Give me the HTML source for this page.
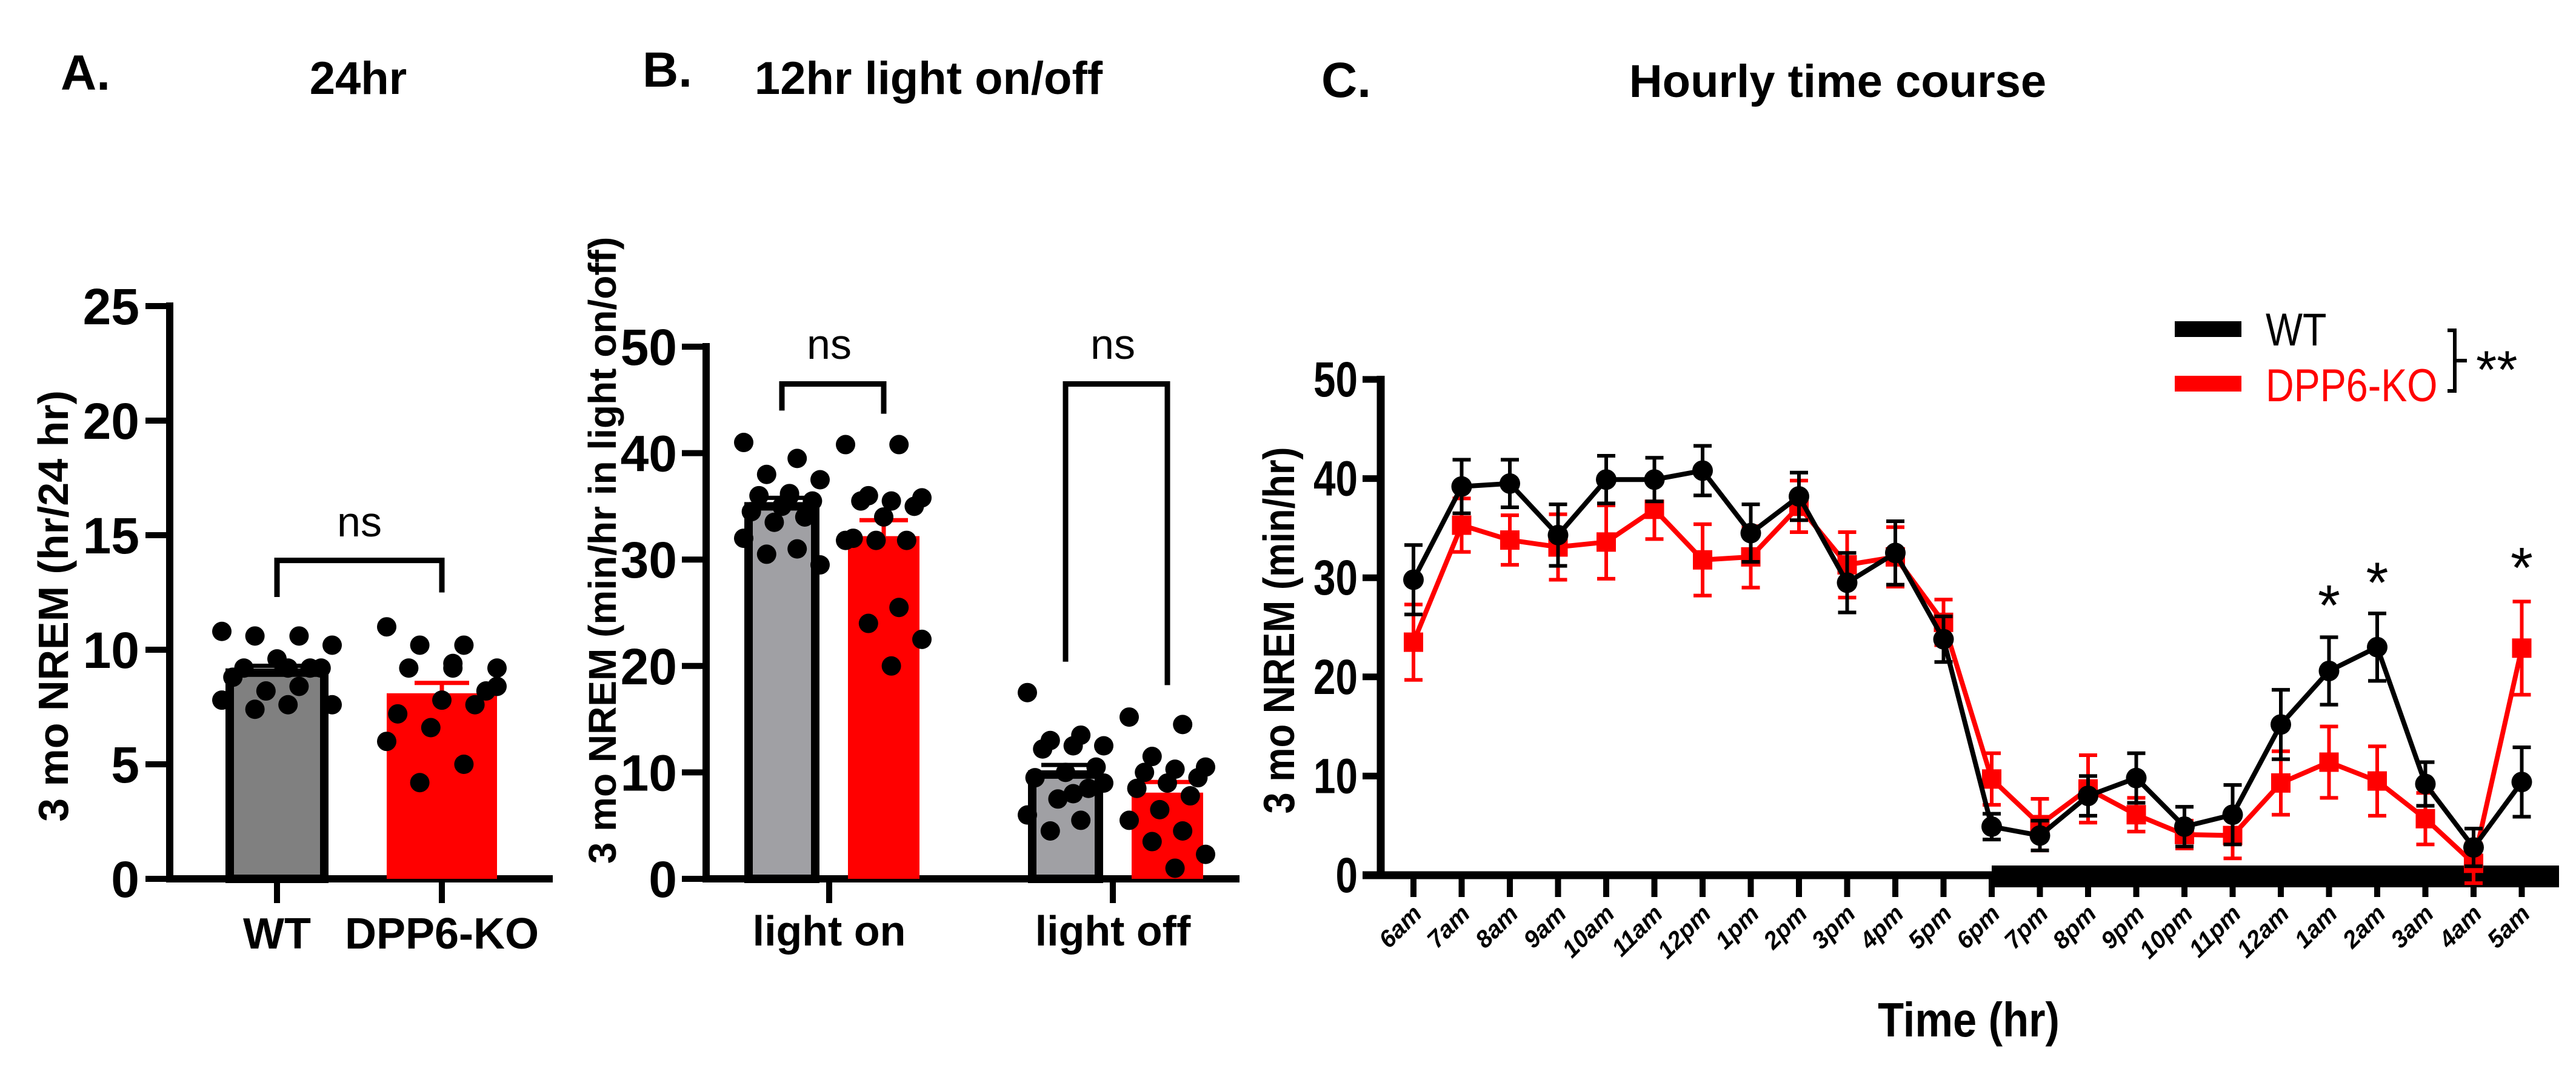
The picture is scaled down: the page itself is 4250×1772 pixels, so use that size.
<!DOCTYPE html>
<html><head><meta charset="utf-8"><style>
html,body{margin:0;padding:0;background:#fff;}
svg{display:block;font-family:"Liberation Sans",Arial,sans-serif;}
</style></head><body>
<svg id="fig" width="4250" height="1772" viewBox="0 0 4250 1772" xmlns="http://www.w3.org/2000/svg">
<g font-weight="bold" font-size="82">
<text x="100" y="148">A.</text>
<text x="591" y="155" text-anchor="middle" font-size="76">24hr</text>
<text x="1060" y="143">B.</text>
<text x="1532" y="155" text-anchor="middle" font-size="76">12hr light on/off</text>
<text x="2180" y="160">C.</text>
<text x="3032" y="160" text-anchor="middle" font-size="76">Hourly time course</text>
</g>
<g id="pa"></g>
<g id="pb"></g>
<g id="pc"></g>
</svg>
<script>
// Panel A data
const aCats = ["WT", "DPP6-KO"];
const aMeans = [9.0, 8.1];
const aSem = [0.3, 0.45];
const aTicks = [0, 5, 10, 15, 20, 25];
const aWT = [10.8, 10.6, 10.6, 10.2, 9.2, 9.2, 9.2, 9.6, 8.8, 9.2, 8.2, 7.8, 8.4, 7.4, 7.6, 7.6];
const aKO = [11.0, 10.2, 10.2, 9.2, 9.4, 9.2, 8.2, 7.8, 7.2, 7.6, 6.6, 6.0, 5.0, 4.2, 8.4, 9.2];
// Panel B data
const bCats = ["light on", "light off"];
const bWTMeans = [35.0, 9.8];
const bKOMeans = [32.2, 8.1];
const bWTSem = [0.8, 0.9];
const bKOSem = [1.5, 1.0];
const bTicks = [0, 10, 20, 30, 40, 50];
const bWTon = [41, 39.5, 38, 37.5, 36, 36, 35.5, 35, 34.5, 34, 33.5, 32, 31, 30.5, 29.5, 36.2];
const bKOon = [40.8, 40.8, 36, 35.8, 35.5, 35.5, 35, 34, 32, 31.8, 31.8, 31.8, 25.5, 24, 22.5, 20];
const bWToff = [17.5, 13.5, 13, 12.5, 12.5, 12.2, 10.5, 10, 9.5, 8.5, 7.5, 6, 5.5, 4.5, 9, 8];
const bKOoff = [15.2, 14.5, 11.5, 10.5, 10.3, 10, 9.5, 9, 8.5, 7.8, 6.5, 5.5, 4.5, 3.5, 2.3, 1];
// Panel C data
const cHours = ["6am","7am","8am","9am","10am","11am","12pm","1pm","2pm","3pm","4pm","5pm","6pm","7pm","8pm","9pm","10pm","11pm","12am","1am","2am","3am","4am","5am"];
const cWT = [29.8,39.2,39.5,34.3,39.9,39.9,40.8,34.5,38.2,29.5,32.5,23.8,4.9,4.0,8.0,9.8,4.9,6.1,15.2,20.6,23.0,9.2,2.8,9.4];
const cWTerr = [3.5,2.7,2.4,3.1,2.4,2.2,2.5,2.9,2.4,3.0,3.2,2.3,1.3,1.5,2.0,2.5,2.0,3.0,3.5,3.4,3.4,2.2,1.9,3.5];
const cKO = [23.5,35.3,33.8,33.1,33.6,36.9,31.8,32.1,37.2,31.3,32.1,25.5,9.7,5.1,8.7,6.1,4.1,4.0,9.3,11.4,9.5,5.7,1.2,22.9];
const cKOerr = [3.8,2.7,2.5,3.3,3.7,3.0,3.6,3.1,2.6,3.3,3.0,2.3,2.6,2.6,3.4,1.7,1.4,2.3,3.2,3.6,3.5,2.6,2.0,4.7];
const cTicks = [0,10,20,30,40,50];
const cStarHours = ["1am","2am","5am"];
const cStarVals = [28, 30.3, 31.8];

const NS = "http://www.w3.org/2000/svg";
function mk(parent, tag, attrs, text) {
  const e = document.createElementNS(NS, tag);
  for (const k in attrs) e.setAttribute(k, attrs[k]);
  if (text !== undefined) e.textContent = text;
  parent.appendChild(e);
  return e;
}
function jitter(i) { return (((i * 7) % 11) - 5) * 14; }

// ---------- Panel A ----------
(function () {
  const g = document.getElementById("pa");
  const y = v => 1450 - v * (1450 - 505) / 25;
  const xc = [457, 729];
  const ax = 280;
  let e = mk(g, "line", {x1: ax, y1: y(25) - 6, x2: ax, y2: y(0) + 6, stroke: "#000", "stroke-width": 12});
   
  e = mk(g, "line", {x1: ax - 6, y1: y(0), x2: 912, y2: y(0), stroke: "#000", "stroke-width": 12});
   
  aTicks.forEach(t => {
    e = mk(g, "line", {x1: ax - 40, y1: y(t), x2: ax, y2: y(t), stroke: "#000", "stroke-width": 10});
     
    e = mk(g, "text", {x: 230, y: y(t) + 30, "text-anchor": "end", "font-size": 84, "font-weight": "bold"}, t);
     
  });
  e = mk(g, "text", {x: 0, y: 0, transform: "translate(112,1000) rotate(-90)", "text-anchor": "middle", "font-size": 70, "font-weight": "bold"}, "3 mo NREM (hr/24 hr)");
   
  const w = 170;
  e = mk(g, "rect", {x: xc[0] - w / 2 + 7, y: y(aMeans[0]), width: w - 14, height: y(0) - y(aMeans[0]), fill: "#808080", stroke: "#000", "stroke-width": 14});
   
  e = mk(g, "rect", {x: xc[1] - 91, y: y(aMeans[1]), width: 182, height: y(0) - y(aMeans[1]), fill: "#ff0000"});
   
  const cols = ["#000", "#ff0000"];
  [0, 1].forEach(i => {
    e = mk(g, "path", {d: `M${xc[i]} ${y(aMeans[i])}V${y(aMeans[i] + aSem[i])}M${xc[i] - 45} ${y(aMeans[i] + aSem[i])}H${xc[i] + 45}`, stroke: cols[i], "stroke-width": 7, fill: "none"});
     
    e = mk(g, "line", {x1: xc[i], y1: y(0), x2: xc[i], y2: y(0) + 40, stroke: "#000", "stroke-width": 10});
     
    e = mk(g, "text", {x: xc[i], y: 1565, "text-anchor": "middle", "font-size": 72, "font-weight": "bold"}, aCats[i]);
     
  });
  [aWT, aKO].forEach((arr, gi) => arr.forEach((v, i) => {
    e = mk(g, "circle", {cx: xc[gi] + jitter(i) * 1.3, cy: y(v), r: 16, fill: "#000"});
     
  }));
  e = mk(g, "path", {d: `M${xc[0]} ${y(12.3)}V${y(13.9)}H${xc[1]}V${y(12.5)}`, stroke: "#000", "stroke-width": 9, fill: "none"});
   
  e = mk(g, "text", {x: (xc[0] + xc[1]) / 2, y: 885, "text-anchor": "middle", "font-size": 70}, "ns");
   
})();

// ---------- Panel B ----------
(function () {
  const g = document.getElementById("pb");
  const y = v => 1450 - v * (1450 - 572) / 50;
  const ax = 1165;
  const gc = [1368, 1836];
  let e = mk(g, "line", {x1: ax, y1: y(50) - 6, x2: ax, y2: y(0) + 6, stroke: "#000", "stroke-width": 12});
   
  e = mk(g, "line", {x1: ax - 6, y1: y(0), x2: 2045, y2: y(0), stroke: "#000", "stroke-width": 12});
   
  bTicks.forEach(t => {
    e = mk(g, "line", {x1: ax - 40, y1: y(t), x2: ax, y2: y(t), stroke: "#000", "stroke-width": 10});
     
    e = mk(g, "text", {x: 1117, y: y(t) + 30, "text-anchor": "end", "font-size": 84, "font-weight": "bold"}, t);
     
  });
  e = mk(g, "text", {x: 0, y: 0, transform: "translate(1016,908) rotate(-90)", "text-anchor": "middle", "font-size": 64, "font-weight": "bold"}, "3 mo NREM (min/hr in light on/off)");
   
  const dots = [[bWTon, bKOon], [bWToff, bKOoff]];
  [0, 1].forEach(k => {
    const xw = gc[k] - 85, xk = gc[k] + 90;
    e = mk(g, "rect", {x: xw - 48, y: y(bWTMeans[k]), width: 110, height: y(0) - y(bWTMeans[k]), fill: "#a0a0a4", stroke: "#000", "stroke-width": 14});
     
    e = mk(g, "rect", {x: xk - 59, y: y(bKOMeans[k]), width: 118, height: y(0) - y(bKOMeans[k]), fill: "#ff0000"});
     
    const xwc = xw + 7;
    e = mk(g, "path", {d: `M${xwc} ${y(bWTMeans[k])}V${y(bWTMeans[k] + bWTSem[k])}M${xwc - 40} ${y(bWTMeans[k] + bWTSem[k])}H${xwc + 40}`, stroke: "#000", "stroke-width": 7, fill: "none"});
     
    e = mk(g, "path", {d: `M${xk} ${y(bKOMeans[k])}V${y(bKOMeans[k] + bKOSem[k])}M${xk - 40} ${y(bKOMeans[k] + bKOSem[k])}H${xk + 40}`, stroke: "#ff0000", "stroke-width": 7, fill: "none"});
     
    dots[k].forEach((arr, si) => arr.forEach((v, i) => {
      e = mk(g, "circle", {cx: (si ? xk : xwc) + jitter(i) * 0.9, cy: y(v), r: 16, fill: "#000"});
       
    }));
    e = mk(g, "line", {x1: gc[k], y1: y(0), x2: gc[k], y2: y(0) + 40, stroke: "#000", "stroke-width": 10});
     
    e = mk(g, "text", {x: gc[k], y: 1560, "text-anchor": "middle", "font-size": 70, "font-weight": "bold"}, bCats[k]);
     
  });
  const legs = [[44, 43.7], [20.4, 18.2]];
  [0, 1].forEach(k => {
    const a = gc[k] - 85 + 7, b = gc[k] + 90;
    e = mk(g, "path", {d: `M${a} ${y(legs[k][0])}V${y(46.5)}H${b}V${y(legs[k][1])}`, stroke: "#000", "stroke-width": 9, fill: "none"});
     
    e = mk(g, "text", {x: gc[k], y: 592, "text-anchor": "middle", "font-size": 70}, "ns");
     
  });
})();

// ---------- Panel C ----------
(function () {
  const g = document.getElementById("pc");
  const y = v => 1444 - v * (1444 - 626) / 50;
  const x = i => 2332 + i * 79.5;
  const ax = 2278;
  let e = mk(g, "rect", {x: x(12), y: 1428, width: 4222 - x(12), height: 36, fill: "#000"});
   
  e = mk(g, "line", {x1: ax, y1: y(50) - 6, x2: ax, y2: y(0) + 6, stroke: "#000", "stroke-width": 13});
   
  e = mk(g, "line", {x1: ax - 30, y1: y(0), x2: 4222, y2: y(0), stroke: "#000", "stroke-width": 13});
   
  cTicks.forEach(t => {
    e = mk(g, "line", {x1: ax - 30, y1: y(t), x2: ax, y2: y(t), stroke: "#000", "stroke-width": 11});
     
    e = mk(g, "text", {x: 0, y: 0, transform: `translate(2240,${y(t) + 28}) scale(0.8,1)`, "text-anchor": "end", "font-size": 82, "font-weight": "bold"}, t);
     
  });
  e = mk(g, "text", {x: 0, y: 0, transform: "translate(2135,1040) rotate(-90) scale(0.88,1)", "text-anchor": "middle", "font-size": 72, "font-weight": "bold"}, "3 mo NREM (min/hr)");
   
  cHours.forEach((h, i) => {
    e = mk(g, "line", {x1: x(i), y1: y(0), x2: x(i), y2: 1480, stroke: "#000", "stroke-width": 10});
     
    e = mk(g, "text", {x: 0, y: 0, transform: `translate(${x(i) + 16},1510) rotate(-45)`, "text-anchor": "end", "font-size": 40, "font-weight": "bold", "font-style": "italic"}, h);
     
  });
  e = mk(g, "text", {x: 0, y: 0, transform: "translate(3248,1710) scale(0.88,1)", "text-anchor": "middle", "font-size": 80, "font-weight": "bold"}, "Time (hr)");
   
  function series(vals, errs, col, name, square) {
    const gg = mk(g, "g", {});
    
    
    vals.forEach((v, i) => {
      e = mk(gg, "path", {d: `M${x(i)} ${y(v - errs[i])}V${y(v + errs[i])}M${x(i) - 15} ${y(v - errs[i])}H${x(i) + 15}M${x(i) - 15} ${y(v + errs[i])}H${x(i) + 15}`, stroke: col, "stroke-width": 6, fill: "none"});
       
    });
    e = mk(gg, "polyline", {points: vals.map((v, i) => x(i) + "," + y(v)).join(" "), stroke: col, "stroke-width": 8, fill: "none"});
     
    vals.forEach((v, i) => {
      if (square) e = mk(gg, "rect", {x: x(i) - 16, y: y(v) - 16, width: 32, height: 32, fill: col});
      else e = mk(gg, "circle", {cx: x(i), cy: y(v), r: 17, fill: col});
       
    });
  }
  series(cKO, cKOerr, "#ff0000", "dpp6-ko", true);
  series(cWT, cWTerr, "#000", "wt", false);
  cStarHours.forEach((h, k) => {
    const i = cHours.indexOf(h);
    e = mk(g, "text", {x: x(i), y: y(cStarVals[k]) + 45, "text-anchor": "middle", "font-size": 95}, "*");
     
  });
  const lg = mk(g, "g", {});
   
  e = mk(lg, "rect", {x: 3588, y: 530, width: 110, height: 26, fill: "#000"});
   
  e = mk(lg, "text", {x: 0, y: 0, transform: "translate(3738,570) scale(0.85,1)", "font-size": 76}, "WT");
   
  e = mk(lg, "rect", {x: 3588, y: 620, width: 110, height: 26, fill: "#ff0000"});
   
  e = mk(lg, "text", {x: 0, y: 0, transform: "translate(3738,662) scale(0.85,1)", "font-size": 76, fill: "#ff0000"}, "DPP6-KO");
   
  e = mk(lg, "path", {d: "M4038 545H4050V645H4038M4050 595H4070", stroke: "#000", "stroke-width": 6, fill: "none"});
   
  e = mk(lg, "text", {x: 4085, y: 640, "font-size": 88}, "**");
   
})();
</script>
</body></html>
